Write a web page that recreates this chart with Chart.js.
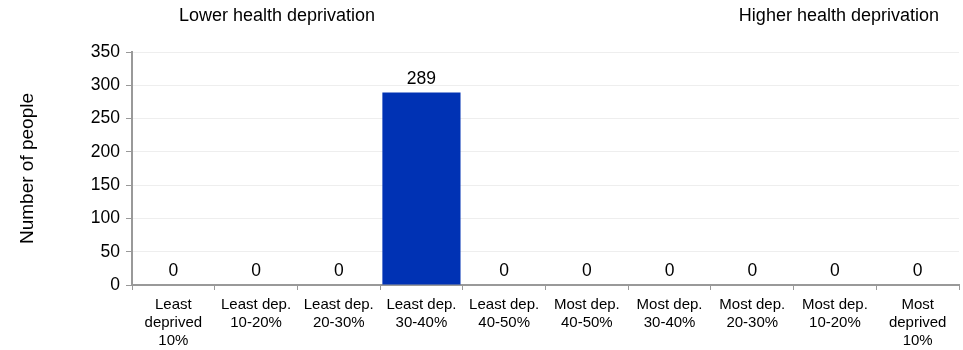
<!DOCTYPE html>
<html>
<head>
  <meta charset="UTF-8" />
  <title>Health deprivation</title>
  <script src="https://cdn.jsdelivr.net/npm/chart.js"></script>
  <style>
    body{margin:0;background:#fff;}
    #wrap{width:963px;height:350px;position:relative;}
  </style>
</head>
<body>
  <div id="wrap"><canvas id="chart" width="963" height="350"></canvas></div>
  <script>
    const categories = [
      ["Least", "deprived", "10%"],
      ["Least dep.", "10-20%"],
      ["Least dep.", "20-30%"],
      ["Least dep.", "30-40%"],
      ["Least dep.", "40-50%"],
      ["Most dep.", "40-50%"],
      ["Most dep.", "30-40%"],
      ["Most dep.", "20-30%"],
      ["Most dep.", "10-20%"],
      ["Most", "deprived", "10%"]
    ];
    const people = [0, 0, 0, 289, 0, 0, 0, 0, 0, 0];
    const yTicks = [0, 50, 100, 150, 200, 250, 300, 350];
    const FONT = "'Liberation Sans', Arial, sans-serif";

    // value labels above bars + header texts
    const extras = {
      id: "extras",
      afterDatasetsDraw(chart){
        const ctx = chart.ctx;
        const meta = chart.getDatasetMeta(0);
        ctx.save();
        ctx.fillStyle = "#000";
        ctx.font = "17.5px " + FONT;
        ctx.textAlign = "center";
        ctx.textBaseline = "alphabetic";
        meta.data.forEach((bar, i) => {
          ctx.fillText(String(people[i]), bar.x, bar.y - 9);
        });
        ctx.font = "18px " + FONT;
        ctx.fillText("Lower health deprivation", 277, 21);
        ctx.textAlign = "right";
        ctx.fillText("Higher health deprivation", 939, 21);
        ctx.restore();
      }
    };

    new Chart(document.getElementById("chart"), {
      type: "bar",
      data: {
        labels: categories,
        datasets: [{
          data: people,
          backgroundColor: "#0032b4",
          barPercentage: 0.945,
          categoryPercentage: 1.0
        }]
      },
      options: {
        responsive: false,
        animation: false,
        layout: { padding: { top: 52, right: 4, left: 0, bottom: 0 } },
        plugins: { legend: { display: false }, tooltip: { enabled: false } },
        scales: {
          x: {
            afterFit(axis){ axis.height = 65; },
            grid: { display: true, drawOnChartArea: false, offset: true, color: "#999", tickColor: "#999", tickLength: 5 },
            border: { color: "#999", width: 2 },
            ticks: { color: "#000", font: { family: FONT, size: 15, lineHeight: 1.2 }, maxRotation: 0, autoSkip: false, padding: 6 }
          },
          y: {
            min: 0, max: 350,
            afterFit(axis){ axis.width = 132; },
            afterBuildTicks(axis){ axis.ticks = yTicks.map(v => ({ value: v })); },
            grid: { color: "#eee", tickLength: 6, tickColor: "#999" },
            border: { color: "#999", width: 2 },
            ticks: { color: "#000", font: { family: FONT, size: 17.5 }, padding: 6 },
            title: { display: true, text: "Number of people", color: "#000", font: { family: FONT, size: 19 }, padding: { top: 16, bottom: 0 } }
          }
        }
      },
      plugins: [extras]
    });
  </script>
</body>
</html>
